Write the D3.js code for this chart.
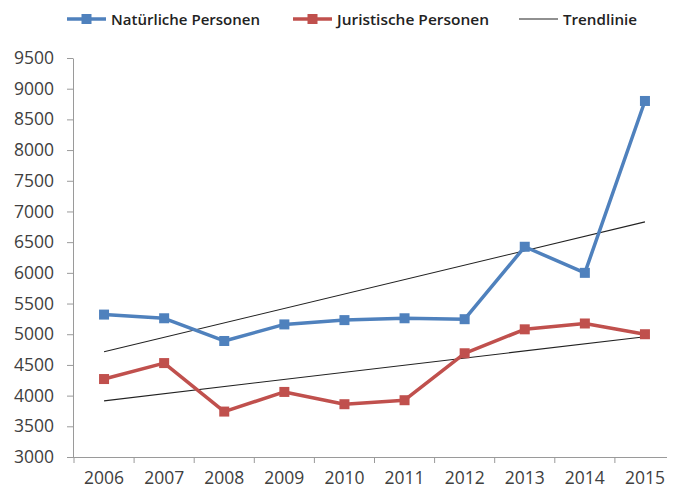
<!DOCTYPE html>
<html><head><meta charset="utf-8">
<script src="https://cdn.jsdelivr.net/npm/d3@7"></script>
<style>body{margin:0;background:#fff}svg{display:block}</style>
</head><body>
<script>
const years = ["2006","2007","2008","2009","2010","2011","2012","2013","2014","2015"];
const natuerlich = [5320,5260,4890,5160,5230,5260,5245,6425,6000,8800];
const juristisch = [4270,4530,3740,4060,3860,3925,4690,5080,5175,5000];
const trendNat = [{year:"2006", v:4715},{year:"2015", v:6830}];
const trendJur = [{year:"2006", v:3915},{year:"2015", v:4960}];
const yTicks = [3000,3500,4000,4500,5000,5500,6000,6500,7000,7500,8000,8500,9000,9500];

const W=676,H=492;
const svg=d3.select("body").append("svg").attr("width",W).attr("height",H);
const x=d3.scaleBand().domain(years).range([74,675]);
const y=d3.scaleLinear().domain([3000,9500]).range([457,58]);
const cx=d=>x(d)+x.bandwidth()/2;
const font="'Open Sans', 'DejaVu Sans', sans-serif";
const axisCol="#9a9a9a";

// y axis
const ya=svg.append("g").attr("transform","translate(73,0)")
  .call(d3.axisLeft(y).tickValues(yTicks).tickFormat(d3.format("d")).tickSize(6).tickSizeOuter(0).tickPadding(13));
ya.select(".domain").attr("stroke",axisCol);
ya.selectAll(".tick line").attr("stroke",axisCol);
ya.selectAll("text").attr("font-family",font).attr("font-size",17.5).attr("fill","#404040");

// x axis
const xa=svg.append("g").attr("transform","translate(0,457)")
  .call(d3.axisBottom(x).tickSize(0).tickPadding(15));
xa.select(".domain").remove();
svg.append("line").attr("x1",73).attr("x2",667).attr("y1",457.5).attr("y2",457.5).attr("stroke",axisCol);
svg.selectAll(".xt").data(years.slice(0)).enter().append("line")
  .attr("x1",d=>x(d)).attr("x2",d=>x(d)).attr("y1",457).attr("y2",463).attr("stroke",axisCol);
xa.selectAll("text").attr("font-family",font).attr("font-size",17.5).attr("fill","#404040");

// trend lines
const tl=d3.line().x(d=>cx(d.year)).y(d=>y(d.v));
[trendNat,trendJur].forEach(t=>svg.append("path").attr("d",tl(t)).attr("fill","none").attr("stroke","#222").attr("stroke-width",1.1));

// series
const series=[{vals:natuerlich,col:"#4F81BD"},{vals:juristisch,col:"#C0504D"}];
const line=d3.line().x((d,i)=>cx(years[i])).y(d=>y(d));
series.forEach(s=>{
  svg.append("path").attr("d",line(s.vals)).attr("fill","none").attr("stroke",s.col).attr("stroke-width",3.5).attr("stroke-linejoin","round");
  svg.selectAll(null).data(s.vals).enter().append("rect")
    .attr("x",(d,i)=>cx(years[i])-5).attr("y",d=>y(d)-5).attr("width",10).attr("height",10).attr("fill",s.col);
});

// legend
const leg=[{t:"Natürliche Personen",col:"#4F81BD",m:true,x:67,tw:149},
           {t:"Juristische Personen",col:"#C0504D",m:true,x:293,tw:152},
           {t:"Trendlinie",col:"#222",m:false,x:519,tw:74}];
leg.forEach(l=>{
  const g=svg.append("g");
  g.append("line").attr("x1",l.x).attr("x2",l.x+39).attr("y1",19).attr("y2",19).attr("stroke",l.col).attr("stroke-width",l.m?3.5:1.1);
  if(l.m) g.append("rect").attr("x",l.x+14.5).attr("y",14).attr("width",10).attr("height",10).attr("fill",l.col);
  g.append("text").attr("x",l.x+44).attr("y",24.5).text(l.t).attr("font-family",font).attr("font-size",15)
    .attr("font-weight",600).attr("fill","#222").attr("textLength",l.tw).attr("lengthAdjust","spacingAndGlyphs");
});
</script>
</body></html>
